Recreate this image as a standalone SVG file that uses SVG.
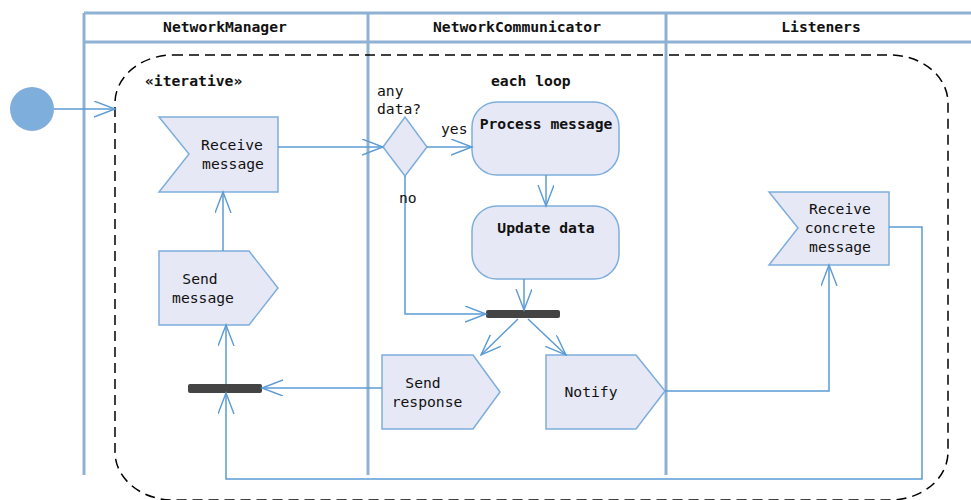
<svg xmlns="http://www.w3.org/2000/svg" width="971" height="500" viewBox="0 0 971 500">
<defs>
<marker id="arr" markerUnits="userSpaceOnUse" markerWidth="24" markerHeight="18" refX="21" refY="8" orient="auto">
<path d="M0,0 L21,8 L0,16" fill="none" stroke="#5b9bd5" stroke-width="1.4"/>
</marker>
<style>
text{font-family:"DejaVu Sans Mono","Liberation Mono",monospace;font-size:14.7px;fill:#111}
.b{font-weight:bold}
.m{text-anchor:middle}
.lane{stroke:#8fb1d3;stroke-width:3;fill:none}
.node{fill:#e6e8f5;stroke:#7eaedc;stroke-width:1.5}
.bar{fill:#444;stroke:none}
.c{fill:none;stroke:#5b9bd5;stroke-width:1.5;marker-end:url(#arr)}
</style>
</defs>
<rect width="971" height="500" fill="#fff"/>
<g id="swimlanes">
<line class="lane" x1="84" y1="13" x2="971" y2="13"/>
<line class="lane" x1="84" y1="42" x2="971" y2="42"/>
<line class="lane" x1="84" y1="13" x2="84" y2="475"/>
<line class="lane" x1="368" y1="13" x2="368" y2="475"/>
<line class="lane" x1="666" y1="13" x2="666" y2="475"/>
<text class="b m" x="225" y="32">NetworkManager</text>
<text class="b m" x="517" y="32">NetworkCommunicator</text>
<text class="b m" x="821" y="32">Listeners</text>
</g>
<g id="region">
<rect x="115" y="55" width="833" height="445" rx="58" ry="48" fill="none" stroke="#000" stroke-width="1.5" stroke-dasharray="10,6"/>
<text class="b" x="145" y="86">«iterative»</text>
<text class="b" x="491" y="86">each loop</text>
</g>
<g id="start"><circle cx="32" cy="109" r="22" fill="#7eaedc"/></g>
<g id="receive-message">
<polygon class="node" points="159,117 278,117 278,192 159,192 189,154"/>
<text class="m" x="232" y="150">Receive</text>
<text class="m" x="233" y="169">message</text>
</g>
<g id="decision">
<polygon class="node" points="383,147 405,117 427,147 405,176"/>
<text x="377" y="96">any</text>
<text x="377" y="114">data?</text>
</g>
<g id="process-message">
<rect class="node" x="472" y="102" width="147" height="73" rx="25"/>
<text class="b m" x="546" y="129">Process message</text>
</g>
<g id="update-data">
<rect class="node" x="472" y="206" width="147" height="73" rx="25"/>
<text class="b m" x="546" y="233">Update data</text>
</g>
<g id="fork"><rect class="bar" x="486" y="310" width="74" height="8" rx="2"/></g>
<g id="join"><rect class="bar" x="188" y="384" width="74" height="9" rx="2"/></g>
<g id="send-response">
<polygon class="node" points="382,355 473,355 500,392 473,429 382,429"/>
<text class="m" x="423" y="388">Send</text>
<text class="m" x="427" y="407">response</text>
</g>
<g id="notify">
<polygon class="node" points="546,355 636,355 665,391 636,429 546,429"/>
<text class="m" x="591" y="397">Notify</text>
</g>
<g id="send-message">
<polygon class="node" points="159,251 249,251 278,288 249,325 159,325"/>
<text class="m" x="200" y="284">Send</text>
<text class="m" x="203" y="303">message</text>
</g>
<g id="receive-concrete-message">
<polygon class="node" points="769,192 889,192 889,265 769,265 798,228"/>
<text class="m" x="840" y="214">Receive</text>
<text class="m" x="840" y="233">concrete</text>
<text class="m" x="840" y="252">message</text>
</g>
<g id="connectors">
<path class="c" d="M54,109 H115"/>
<path class="c" d="M278,147 H383"/>
<path class="c" d="M427,147 H472"/>
<text x="441" y="134">yes</text>
<path class="c" d="M405,176 V314 H486"/>
<text x="399" y="203">no</text>
<path class="c" d="M546,175 V206"/>
<path class="c" d="M524,279 V310"/>
<path class="c" d="M518,319 L481,355"/>
<path class="c" d="M528,319 L566,355"/>
<path class="c" d="M382,388 H262"/>
<path class="c" d="M226,384 V325"/>
<path class="c" d="M223,251 V192"/>
<path class="c" d="M665,391 H829 V265"/>
<path class="c" d="M889,227 H922 V479 H226 V393"/>
</g>
</svg>
